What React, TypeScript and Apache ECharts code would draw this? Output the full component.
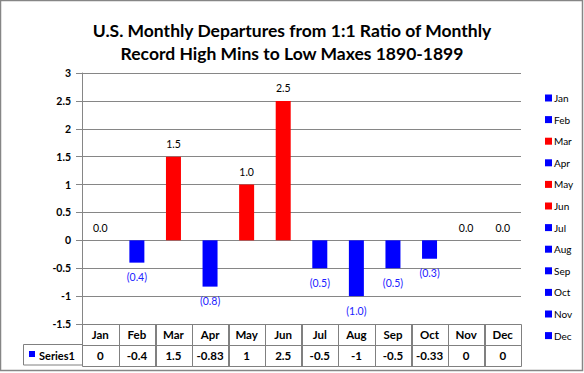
import React, { useEffect, useRef } from "react";
import * as echarts from "echarts";

const TITLE = "U.S. Monthly Departures from 1:1 Ratio of Monthly\nRecord High Mins to Low Maxes 1890-1899";
const months = ["Jan", "Feb", "Mar", "Apr", "May", "Jun", "Jul", "Aug", "Sep", "Oct", "Nov", "Dec"];
const values = [0, -0.4, 1.5, -0.83, 1, 2.5, -0.5, -1, -0.5, -0.33, 0, 0];
const tableValues = ["0", "-0.4", "1.5", "-0.83", "1", "2.5", "-0.5", "-1", "-0.5", "-0.33", "0", "0"];
const barColors = ["#0000FF", "#0000FF", "#FF0000", "#0000FF", "#FF0000", "#FF0000", "#0000FF", "#0000FF", "#0000FF", "#0000FF", "#0000FF", "#0000FF"];
const seriesName = "Series1";
const yMin = -1.5;
const yMax = 3;
const yStep = 0.5;

const FONT = "Lato, 'Open Sans', sans-serif";

function fmtLabel(v: number): string {
  return v >= 0 ? v.toFixed(1) : "(" + Math.abs(v).toFixed(1) + ")";
}

export default function App() {
  const ref = useRef<HTMLDivElement>(null);
  useEffect(() => {
    document.body.style.margin = "0";
    if (!ref.current) return;
    const chart = echarts.init(ref.current, undefined, { renderer: "svg" });

    const barSeries = months.map((m, i) => ({
      type: "bar",
      name: m,
      xAxisIndex: 0,
      yAxisIndex: 0,
      barWidth: 15,
      barGap: "-100%",
      itemStyle: { color: barColors[i] },
      data: months.map((_, j) => {
        if (j !== i) return "-";
        const v = values[j];
        return {
          value: v,
          label: {
            show: true,
            position: v >= 0 ? "top" : "bottom",
            distance: v >= 0 ? 7 : 9,
            color: v >= 0 ? "#000000" : "#2222FF",
            fontFamily: FONT,
            fontSize: 10.5,
            formatter: () => fmtLabel(v),
          },
        };
      }),
    }));

    const tableTexts: string[] = [];
    const tableData: number[][] = [];
    months.forEach((m, i) => {
      tableData.push([i, 1]);
      tableTexts.push(m);
      tableData.push([i, 0]);
      tableTexts.push(tableValues[i]);
    });

    const option: any = {
      animation: false,
      backgroundColor: "#ffffff",
      textStyle: { fontFamily: FONT },
      title: {
        text: TITLE,
        left: "center",
        top: 14,
        textStyle: {
          fontFamily: FONT,
          fontSize: 17.5,
          fontWeight: "bold",
          color: "#000000",
          lineHeight: 23,
        },
      },
      legend: {
        orient: "vertical",
        left: 540,
        top: 87,
        itemWidth: 7,
        itemHeight: 7,
        itemGap: 9.6,
        icon: "rect",
        data: months,
        textStyle: { fontFamily: FONT, fontSize: 10, color: "#000", lineHeight: 12, padding: [0, 0, 0, -3] },
        selectedMode: false,
      },
      grid: [
        { left: 82, top: 73, width: 439, height: 251 },
        { left: 82, top: 324, width: 439, height: 41 },
      ],
      xAxis: [
        {
          type: "category",
          gridIndex: 0,
          data: months,
          axisLine: { show: false },
          axisTick: { show: false },
          axisLabel: { show: false },
          splitLine: { show: false },
        },
        {
          type: "category",
          gridIndex: 1,
          data: months,
          axisLine: { show: false },
          axisTick: { show: false },
          axisLabel: { show: false },
          splitLine: { show: false },
        },
      ],
      yAxis: [
        {
          type: "value",
          gridIndex: 0,
          min: yMin,
          max: yMax,
          interval: yStep,
          axisLine: { show: true, lineStyle: { color: "#868686", width: 1 } },
          axisTick: { show: true, inside: false, length: 6, lineStyle: { color: "#868686" } },
          axisLabel: { color: "#000", fontFamily: FONT, fontSize: 10.5, fontWeight: "bold", margin: 11 },
          splitLine: { show: true, lineStyle: { color: "#868686", width: 1 } },
        },
        {
          type: "category",
          gridIndex: 1,
          data: ["values", "header"],
          axisLine: { show: false },
          axisTick: { show: false },
          axisLabel: { show: false },
          splitLine: { show: false },
        },
      ],
      graphic: [
        {
          type: "rect",
          shape: { x: 0.5, y: 0.5, width: 582, height: 370 },
          style: { fill: "none", stroke: "#868686", lineWidth: 1.5 },
          silent: true,
        },
        {
          type: "group",
          left: 23,
          top: 344,
          children: [
            {
              type: "rect",
              shape: { x: 0.5, y: 0.5, width: 59, height: 20.5 },
              style: { fill: "#fff", stroke: "#808080", lineWidth: 1 },
            },
            {
              type: "rect",
              shape: { x: 6, y: 7, width: 6, height: 6 },
              style: { fill: "#0000FF" },
            },
            {
              type: "text",
              x: 16,
              y: 11,
              style: {
                text: seriesName,
                fill: "#000",
                font: "bold 11px " + FONT,
                verticalAlign: "middle",
                align: "left",
              },
            },
          ],
        },
      ],
      series: [
        ...barSeries,
        {
          type: "custom",
          name: "table",
          xAxisIndex: 1,
          yAxisIndex: 1,
          silent: true,
          data: tableData,
          renderItem: (params: any, api: any) => {
            const c = api.coord([api.value(0), api.value(1)]);
            const s = api.size([1, 1]);
            const x0 = Math.round(c[0] - s[0] / 2) + 0.5;
            const y0 = Math.round(c[1] - s[1] / 2) + 0.5;
            const w = Math.round(s[0]);
            const h = Math.round(s[1]);
            return {
              type: "group",
              children: [
                {
                  type: "rect",
                  shape: { x: x0, y: y0, width: w, height: h },
                  style: { fill: "none", stroke: "#808080", lineWidth: 1 },
                },
                {
                  type: "text",
                  x: c[0],
                  y: c[1] + 0.5,
                  style: {
                    text: tableTexts[params.dataIndex],
                    fill: "#000",
                    font: "bold 11.5px " + FONT,
                    align: "center",
                    verticalAlign: "middle",
                  },
                },
              ],
            };
          },
        },
      ],
    };

    chart.setOption(option);
    return () => chart.dispose();
  }, []);

  return (
    <div
      ref={ref}
      style={{ position: "absolute", left: 0, top: 0, width: 584, height: 373 }}
    />
  );
}
